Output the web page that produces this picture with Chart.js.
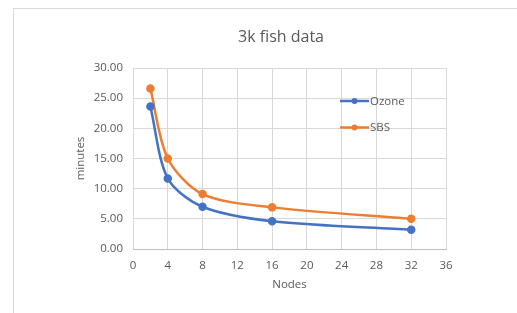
<!DOCTYPE html>
<html>
<head>
<meta charset="utf-8">
<script src="https://cdn.jsdelivr.net/npm/chart.js@4/dist/chart.umd.min.js"></script>
<style>
  html, body { margin: 0; padding: 0; background: #ffffff; }
  #wrap { width: 517px; height: 313px; position: relative; }
</style>
</head>
<body>
<div id="wrap"><canvas id="c" width="517" height="313"></canvas></div>
<script>
const chartTitle = "3k fish data";
const xTitle = "Nodes";
const yTitle = "minutes";
const nodes = [2, 4, 8, 16, 32];
const ozone = [23.6, 11.7, 7.0, 4.6, 3.2];
const sbs = [26.6, 15.0, 9.1, 6.9, 5.0];
const seriesNames = ["Ozone", "SBS"];
const xTicks = [0, 4, 8, 12, 16, 20, 24, 28, 32, 36];
const yTicks = [0, 5, 10, 15, 20, 25, 30];

const FONT = "'Open Sans', 'Noto Sans', sans-serif";
const TEXT = '#595959';
const COLORS = ['#4472C4', '#ED7D31'];

const toPts = (ys) => nodes.map((x, i) => ({ x: x, y: ys[i] }));

const framePlugin = {
  id: 'frame',
  beforeDraw(chart) {
    const ctx = chart.ctx;
    ctx.save();
    ctx.strokeStyle = '#d9d9d9';
    ctx.lineWidth = 1;
    ctx.strokeRect(13.5, 8.5, 700, 500);
    ctx.restore();
  },
  afterDraw(chart) {
    const ctx = chart.ctx;
    ctx.save();
    ctx.fillStyle = TEXT;
    ctx.font = "16px " + FONT;
    ctx.textAlign = 'center';
    ctx.textBaseline = 'middle';
    ctx.fillText(chartTitle, 281, 37);
    const items = [{ y: 101 }, { y: 127.5 }];
    chart.data.datasets.forEach((ds, i) => {
      const y = items[i].y;
      ctx.strokeStyle = ds.borderColor;
      ctx.lineWidth = 2.5;
      ctx.beginPath();
      ctx.moveTo(340, y);
      ctx.lineTo(369, y);
      ctx.stroke();
      ctx.fillStyle = ds.borderColor;
      ctx.beginPath();
      ctx.arc(354.5, y, 3, 0, Math.PI * 2);
      ctx.fill();
      ctx.fillStyle = TEXT;
      ctx.font = "11.5px " + FONT;
      ctx.textAlign = 'left';
      ctx.textBaseline = 'middle';
      ctx.fillText(ds.label, 370, y + 0.5);
    });
    ctx.restore();
  }
};

new Chart(document.getElementById('c'), {
  type: 'line',
  data: {
    datasets: [
      {
        label: seriesNames[0], data: toPts(ozone),
        borderColor: COLORS[0], backgroundColor: COLORS[0],
        borderWidth: 2.5, pointRadius: 3, pointHoverRadius: 3,
        tension: 0.3, fill: false
      },
      {
        label: seriesNames[1], data: toPts(sbs),
        borderColor: COLORS[1], backgroundColor: COLORS[1],
        borderWidth: 2.5, pointRadius: 3, pointHoverRadius: 3,
        tension: 0.3, fill: false
      }
    ]
  },
  options: {
    responsive: false,
    animation: false,
    events: [],
    layout: { padding: { top: 68, right: 71, left: 0, bottom: 0 } },
    plugins: {
      legend: { display: false },
      title: { display: false },
      tooltip: { enabled: false }
    },
    scales: {
      x: {
        type: 'linear', min: 0, max: 36,
        afterBuildTicks: (s) => { s.ticks = xTicks.map(v => ({ value: v })); },
        afterFit: (s) => { s.height = 64; },
        ticks: { color: TEXT, font: { family: FONT, size: 11.5 }, padding: 10, maxRotation: 0 },
        grid: { color: '#d9d9d9', drawTicks: false },
        border: { color: '#bfbfbf', width: 1 },
        title: { display: true, text: xTitle, color: TEXT, font: { family: FONT, size: 11.5 }, padding: { top: 0, bottom: 21 } }
      },
      y: {
        min: 0, max: 30,
        afterBuildTicks: (s) => { s.ticks = yTicks.map(v => ({ value: v })); },
        afterFit: (s) => { s.width = 133; },
        ticks: { color: TEXT, font: { family: FONT, size: 11.5 }, padding: 10, callback: (v) => Number(v).toFixed(2) },
        grid: { color: '#d9d9d9', drawTicks: false },
        border: { display: false },
        title: { display: true, text: yTitle, color: TEXT, font: { family: FONT, size: 11.5 }, padding: { top: 74, bottom: 0 } }
      }
    }
  },
  plugins: [framePlugin]
});
</script>
</body>
</html>
